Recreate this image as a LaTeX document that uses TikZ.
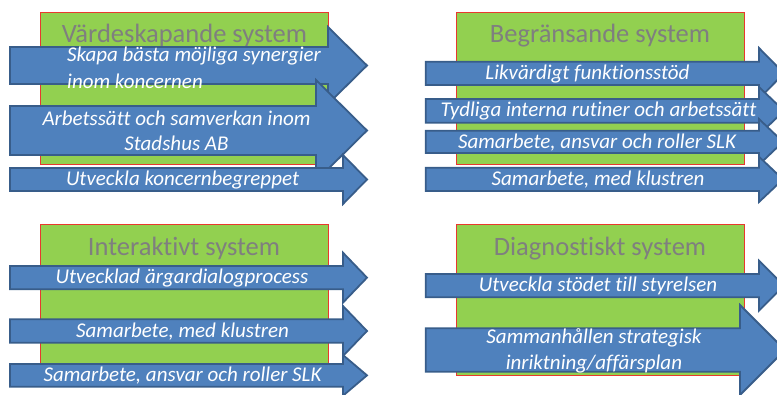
\documentclass[tikz,border=0pt]{standalone}
\usepackage{fontspec}
\setmainfont[Ligatures={NoCommon}]{Carlito}
\definecolor{boxgreen}{HTML}{92D050}
\definecolor{boxred}{HTML}{E8382E}
\definecolor{arrfill}{HTML}{4F81BD}
\definecolor{arrline}{HTML}{385D8A}
\definecolor{titlegray}{HTML}{7F7F7F}
\tikzset{
  sysbox/.style={fill=boxgreen, draw=boxred, line width=1pt},
  arr/.style={fill=arrfill, draw=arrline, line width=1.8pt, line join=miter},
  systitle/.style={text=titlegray, font=\fontsize{26.5}{30}\selectfont, inner sep=0pt, anchor=base},
  arrtext/.style={text=white, font=\fontsize{21}{26}\selectfont\itshape, inner sep=0pt, align=center},
}
% x0, top, bottom, headbase, headtop, tip
\newcommand{\myarrow}[6]{%
  \filldraw[arr] (#1,#2) -- (#4,#2) -- (#4,#5) -- (#6,{(#2+#3)/2}) -- (#4,{#2+#3-#5}) -- (#4,#3) -- (#1,#3) -- cycle;}
\begin{document}
\begin{tikzpicture}[x=1pt,y=-1pt]
\useasboundingbox (0,0) rectangle (777,394);
\clip (0,0) rectangle (777,394);
% ---------- Värdeskapande ----------
\draw[sysbox] (40.7,12.7) rectangle (328,164);
\node[systitle] (t1) at (184.5,42.5) {Värdeskapande system};
\myarrow{10}{47}{84}{328}{27}{367}
\node[arrtext, align=left, anchor=west, font=\fontsize{21}{27}\selectfont\itshape] (a11) at (67,67.5) {Skapa bästa möjliga synergier\\inom koncernen};
\myarrow{10}{106}{155}{316}{80}{367}
\node[arrtext, font=\fontsize{21}{25}\selectfont\itshape] (a12) at (176.5,131) {Arbetssätt och samverkan inom\\Stadshus AB};
\myarrow{10}{168}{191}{343}{155}{367}
\node[arrtext] (a13) at (182.5,180.5) {Utveckla koncernbegreppet};
% ---------- Begränsande ----------
\draw[sysbox] (456.7,12.7) rectangle (744,164);
\node[systitle] (t2) at (600,42.5) {Begränsande system};
\myarrow{425.7}{61.7}{85}{759}{48}{784}
\node[arrtext] (a21) at (587.5,74) {Likvärdigt funktionsstöd};
\myarrow{425.7}{99}{122.7}{759}{87}{784}
\node[arrtext] (a22) at (598.5,111.5) {Tydliga interna rutiner och arbetssätt};
\myarrow{425.7}{130.7}{153}{759}{119}{783}
\node[arrtext] (a23) at (597,142.5) {Samarbete, ansvar och roller SLK};
\myarrow{425.7}{167.7}{191}{759}{156.7}{783}
\node[arrtext] (a24) at (598,180) {Samarbete, med klustren};
% ---------- Interaktivt ----------
\draw[sysbox] (40.7,224.3) rectangle (328,364);
\node[systitle] (t3) at (184,255.2) {Interaktivt system};
\myarrow{10}{266}{289.3}{343}{252.7}{367}
\node[arrtext] (a31) at (182,278) {Utvecklad ärgardialogprocess};
\myarrow{10}{319.3}{342.7}{343}{306}{367}
\node[arrtext] (a32) at (182.5,331.5) {Samarbete, med klustren};
\myarrow{10}{364}{386.7}{343}{355}{367}
\node[arrtext] (a33) at (182.5,375.8) {Samarbete, ansvar och roller SLK};
% ---------- Diagnostiskt ----------
\draw[sysbox] (456.7,224.3) rectangle (744,375);
\node[systitle] (t4) at (600,255.2) {Diagnostiskt system};
\myarrow{425.7}{274}{297.3}{759}{260.7}{784}
\node[arrtext] (a41) at (598,286) {Utveckla stödet till styrelsen};
\myarrow{425.7}{328.3}{371.7}{740}{305}{785}
\node[arrtext, font=\fontsize{21}{26}\selectfont\itshape] (a42) at (594,350.5) {Sammanhållen strategisk\\inriktning/affärsplan};
\end{tikzpicture}
\end{document}
